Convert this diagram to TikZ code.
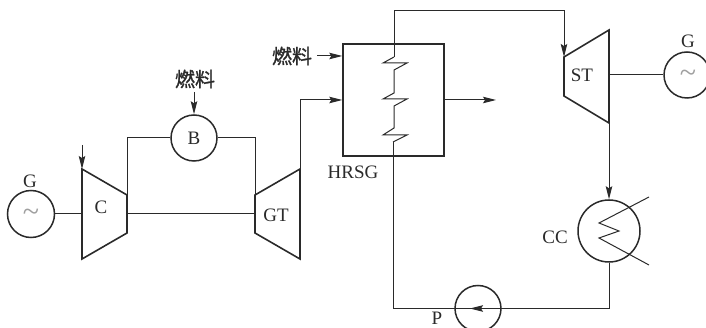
\documentclass[tikz,border=0pt]{standalone}
\usepackage{fontspec}
\setmainfont{Liberation Serif}
\newfontfamily\cjk[FakeBold=1.2]{Noto Sans CJK SC}
\usetikzlibrary{arrows.meta}
\definecolor{ink}{HTML}{2A2A2A}
\tikzset{
  x=1pt,y=-1pt,
  every path/.style={color=ink},
  thick line/.style={line width=1.6pt,line join=miter},
  thin line/.style={line width=1pt},
  flow/.style={thin line,-{Stealth[length=13pt,width=6.5pt,inset=2pt]}},
  disc/.style={circle,draw=ink,line width=1.5pt,inner sep=0pt,fill=white},
  lab/.style={inner sep=0pt,text=ink,font=\fontsize{19}{19}\selectfont},
  wave/.style={inner sep=0pt,text=gray!75,font=\fontsize{30}{30}\selectfont},
  fuel/.style={inner sep=0pt,text=ink,font=\cjk\fontsize{20}{20}\selectfont},
}
\begin{document}
\begin{tikzpicture}
\useasboundingbox (0,0) rectangle (706,328);
% reference points
\coordinate (ct1) at (82,169); \coordinate (ct2) at (127,195);
\coordinate (ct3) at (127,233); \coordinate (ct4) at (82,259);
\coordinate (gt1) at (300,169); \coordinate (gt2) at (255,195);
\coordinate (gt3) at (255,233); \coordinate (gt4) at (300,259);
\coordinate (st1) at (609,30); \coordinate (st2) at (564,57);
\coordinate (st3) at (564,96); \coordinate (st4) at (609,123);
\coordinate (inC) at (82,145);
\coordinate (topL) at (394,11); \coordinate (topR) at (564,11);
\coordinate (pL) at (393,308.5);
\coordinate (exit) at (496,100);
\coordinate (fuelStart) at (317,56);
\coordinate (fuelTop) at (194,92);
% discs and boiler
\node[disc,minimum size=47pt] (G1) at (31,214) {};
\node[disc,minimum size=46pt] (B) at (194,138) {};
\node[disc,minimum size=46pt] (G2) at (687,75) {};
\node[disc,minimum size=62pt] (CC) at (609,231) {};
\node[disc,minimum size=46pt] (P) at (478,308.5) {};
\node[draw=ink,line width=1.5pt,minimum width=101pt,minimum height=112pt,inner sep=0pt] (H) at (393.5,100) {};

\draw[thin line] (G1.east) -- (82,214);
\draw[thin line] (ct2) |- (B.west);
\draw[thin line] (gt2) |- (B.east);
\draw[thin line] (127,214) -- (255,214);
\draw[thin line] (609,75) -- (G2.west);
\draw[flow] (inC) -- (ct1);
\draw[flow] (gt1) |- (H.west |- 0,100);
\draw[flow] (fuelStart) -- (H.west |- fuelStart);
\draw[flow] (H.east |- exit) -- (exit);
\draw[flow] (394,57) -- (topL) -- (topR) -- (st2);
\draw[flow] (st4) -- (CC.north);
\draw[thin line] (CC.south) |- (P.east);
\draw[thin line] (P.west) -- (pL) -- (393,142);
\draw[thin line] (394,57) -- (383,63) -- (407,63) -- (394,70) -- (394,93) -- (383,99) -- (407,99) -- (394,106) -- (394,128) -- (383,135) -- (407,135) -- (393,142);
\draw[thin line] (649,197) -- (599,223) -- (619,231) -- (599,238) -- (649,265);
\draw[thin line] (P.east) -- (P.west);
\draw[flow] (485,308.5) -- (470,308.5);
\draw[flow] (fuelTop) -- (B.north);

% machines
\draw[thick line] (ct1) -- (ct2) -- (ct3) -- (ct4) -- cycle;
\draw[thick line] (gt1) -- (gt2) -- (gt3) -- (gt4) -- cycle;
\draw[thick line] (st1) -- (st2) -- (st3) -- (st4) -- cycle;

% labels
\node[lab] (lG1) at (30,181) {G};
\node[wave] (lT1) at (31,215) {\textasciitilde};
\node[lab] (lC) at (101,207) {C};
\node[lab] (lB) at (194,138) {B};
\node[lab] (lGT) at (276,215) {GT};
\node[lab] (lH) at (353,172) {HRSG};
\node[lab] (lST) at (582,75) {ST};
\node[lab] (lG2) at (688,41) {G};
\node[wave] (lT2) at (688,76) {\textasciitilde};
\node[lab] (lCC) at (555,237) {CC};
\node[lab] (lP) at (437,318) {P};
\node[fuel] (f1) at (195,79) {燃料};
\node[fuel] (f2) at (292,56) {燃料};
\end{tikzpicture}
\end{document}
